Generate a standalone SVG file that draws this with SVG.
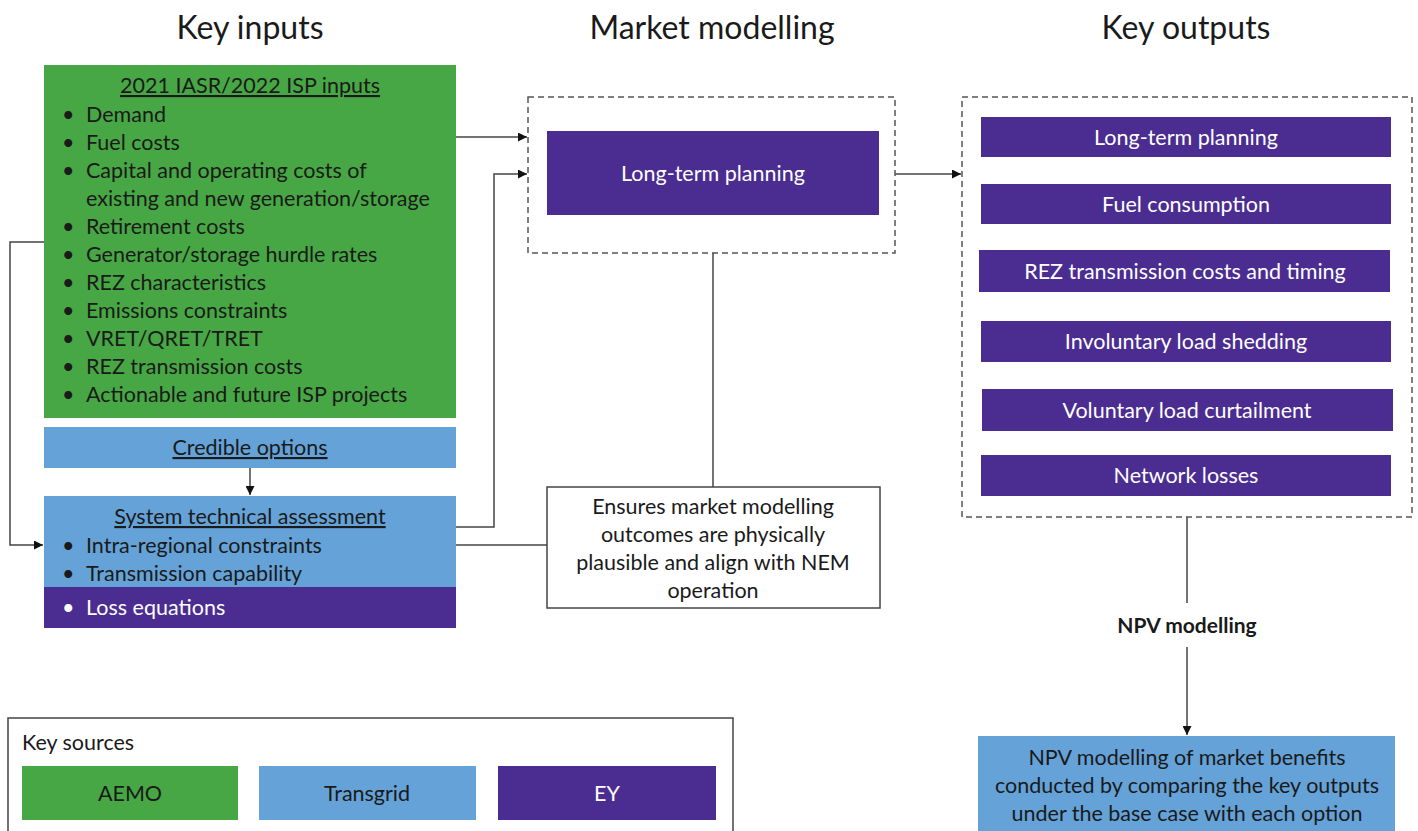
<svg xmlns="http://www.w3.org/2000/svg" width="1418" height="831" viewBox="0 0 1418 831">
<style>
text{font-family:Lato,"Open Sans","Liberation Sans",sans-serif;}
.title{font-size:32px;fill:#1a1a1a;text-anchor:middle;}
.t{font-size:21.5px;fill:#1a1a1a;}
.tc{font-size:21.5px;fill:#1a1a1a;text-anchor:middle;}
.tw{font-size:21.5px;fill:#ffffff;text-anchor:middle;}
.u{text-decoration:underline;}
.green{fill:#47a744;}
.blue{fill:#64a2d8;}
.purple{fill:#4b2d91;}
.dash{fill:none;stroke:#555;stroke-width:1.5;stroke-dasharray:6 4;}
.line{fill:none;stroke:#444;stroke-width:1.5;}
.box{fill:#fff;stroke:#444;stroke-width:1.5;}
</style>
<defs>
<marker id="ah" viewBox="0 0 10 10" refX="10" refY="5" markerWidth="9" markerHeight="9" markerUnits="userSpaceOnUse" orient="auto">
<path d="M0,0 L10,5 L0,10 z" fill="#111"/>
</marker>
</defs>

<text class="title" x="250" y="39">Key inputs</text>
<text class="title" x="712" y="39">Market modelling</text>
<text class="title" x="1186" y="39">Key outputs</text>

<g id="connectors">
<path class="line" d="M44,242 H10 V545 H43" marker-end="url(#ah)"/>
<path class="line" d="M456,137 H527" marker-end="url(#ah)"/>
<path class="line" d="M456,527 H494 V174 H527" marker-end="url(#ah)"/>
<path class="line" d="M250,468 V495" marker-end="url(#ah)"/>
<path class="line" d="M456,545 H548"/>
<path class="line" d="M713,253 V487"/>
<path class="line" d="M895,174 H961" marker-end="url(#ah)"/>
<path class="line" d="M1187,517 V603"/>
<path class="line" d="M1187,647 V735" marker-end="url(#ah)"/>
</g>

<g id="iasr-inputs">
<rect class="green" x="44" y="65" width="412" height="353"/>
<text class="tc u" x="250" y="93">2021 IASR/2022 ISP inputs</text>
<text class="t" x="62" y="122">•</text><text class="t" x="86" y="122">Demand</text>
<text class="t" x="62" y="150">•</text><text class="t" x="86" y="150">Fuel costs</text>
<text class="t" x="62" y="178">•</text><text class="t" x="86" y="178">Capital and operating costs of</text>
<text class="t" x="86" y="206">existing and new generation/storage</text>
<text class="t" x="62" y="234">•</text><text class="t" x="86" y="234">Retirement costs</text>
<text class="t" x="62" y="262">•</text><text class="t" x="86" y="262">Generator/storage hurdle rates</text>
<text class="t" x="62" y="290">•</text><text class="t" x="86" y="290">REZ characteristics</text>
<text class="t" x="62" y="318">•</text><text class="t" x="86" y="318">Emissions constraints</text>
<text class="t" x="62" y="346">•</text><text class="t" x="86" y="346">VRET/QRET/TRET</text>
<text class="t" x="62" y="374">•</text><text class="t" x="86" y="374">REZ transmission costs</text>
<text class="t" x="62" y="402">•</text><text class="t" x="86" y="402">Actionable and future ISP projects</text>
</g>

<g id="credible-options">
<rect class="blue" x="44" y="427" width="412" height="41"/>
<text class="tc u" x="250" y="455">Credible options</text>
</g>

<g id="system-technical-assessment">
<rect class="blue" x="44" y="496" width="412" height="91"/>
<rect class="purple" x="44" y="587" width="412" height="41"/>
<text class="tc u" x="250" y="524">System technical assessment</text>
<text class="t" x="62" y="553">•</text><text class="t" x="86" y="553">Intra-regional constraints</text>
<text class="t" x="62" y="581">•</text><text class="t" x="86" y="581">Transmission capability</text>
<text class="t" x="62" y="615" style="fill:#fff">•</text><text class="t" x="86" y="615" style="fill:#fff">Loss equations</text>
</g>

<g id="market-modelling">
<rect class="dash" x="528" y="97" width="367" height="156"/>
<rect class="purple" x="547" y="131" width="332" height="84"/>
<text class="tw" x="713" y="181">Long-term planning</text>
</g>

<g id="ensures-note">
<rect class="box" x="547" y="487" width="333" height="121"/>
<text class="tc" x="713" y="514">Ensures market modelling</text>
<text class="tc" x="713" y="542">outcomes are physically</text>
<text class="tc" x="713" y="570">plausible and align with NEM</text>
<text class="tc" x="713" y="598">operation</text>
</g>

<g id="key-outputs">
<rect class="dash" x="962" y="97" width="450" height="420"/>
<rect class="purple" x="981" y="117" width="410" height="40"/>
<text class="tw" x="1186" y="145">Long-term planning</text>
<rect class="purple" x="981" y="184" width="410" height="40"/>
<text class="tw" x="1186" y="212">Fuel consumption</text>
<rect class="purple" x="979" y="250" width="411" height="42"/>
<text class="tw" x="1185" y="279">REZ transmission costs and timing</text>
<rect class="purple" x="981" y="321" width="410" height="41"/>
<text class="tw" x="1186" y="349">Involuntary load shedding</text>
<rect class="purple" x="982" y="389" width="411" height="42"/>
<text class="tw" x="1187" y="418">Voluntary load curtailment</text>
<rect class="purple" x="981" y="455" width="410" height="41"/>
<text class="tw" x="1186" y="483">Network losses</text>
</g>

<g id="npv-label">
<text class="tc" x="1187" y="633" style="font-weight:bold;font-size:21px">NPV modelling</text>
</g>

<g id="npv-box">
<rect class="blue" x="978" y="736" width="417" height="100"/>
<text class="tc" x="1187" y="765">NPV modelling of market benefits</text>
<text class="tc" x="1187" y="793">conducted by comparing the key outputs</text>
<text class="tc" x="1187" y="821">under the base case with each option</text>
</g>

<g id="legend">
<rect class="box" x="8" y="718" width="725" height="125"/>
<text class="t" x="22" y="750">Key sources</text>
<rect class="green" x="22" y="766" width="216" height="54"/>
<text class="tc" x="130" y="801">AEMO</text>
<rect class="blue" x="259" y="766" width="217" height="54"/>
<text class="tc" x="367" y="801">Transgrid</text>
<rect class="purple" x="498" y="766" width="218" height="54"/>
<text class="tw" x="607" y="801">EY</text>
</g>
</svg>
